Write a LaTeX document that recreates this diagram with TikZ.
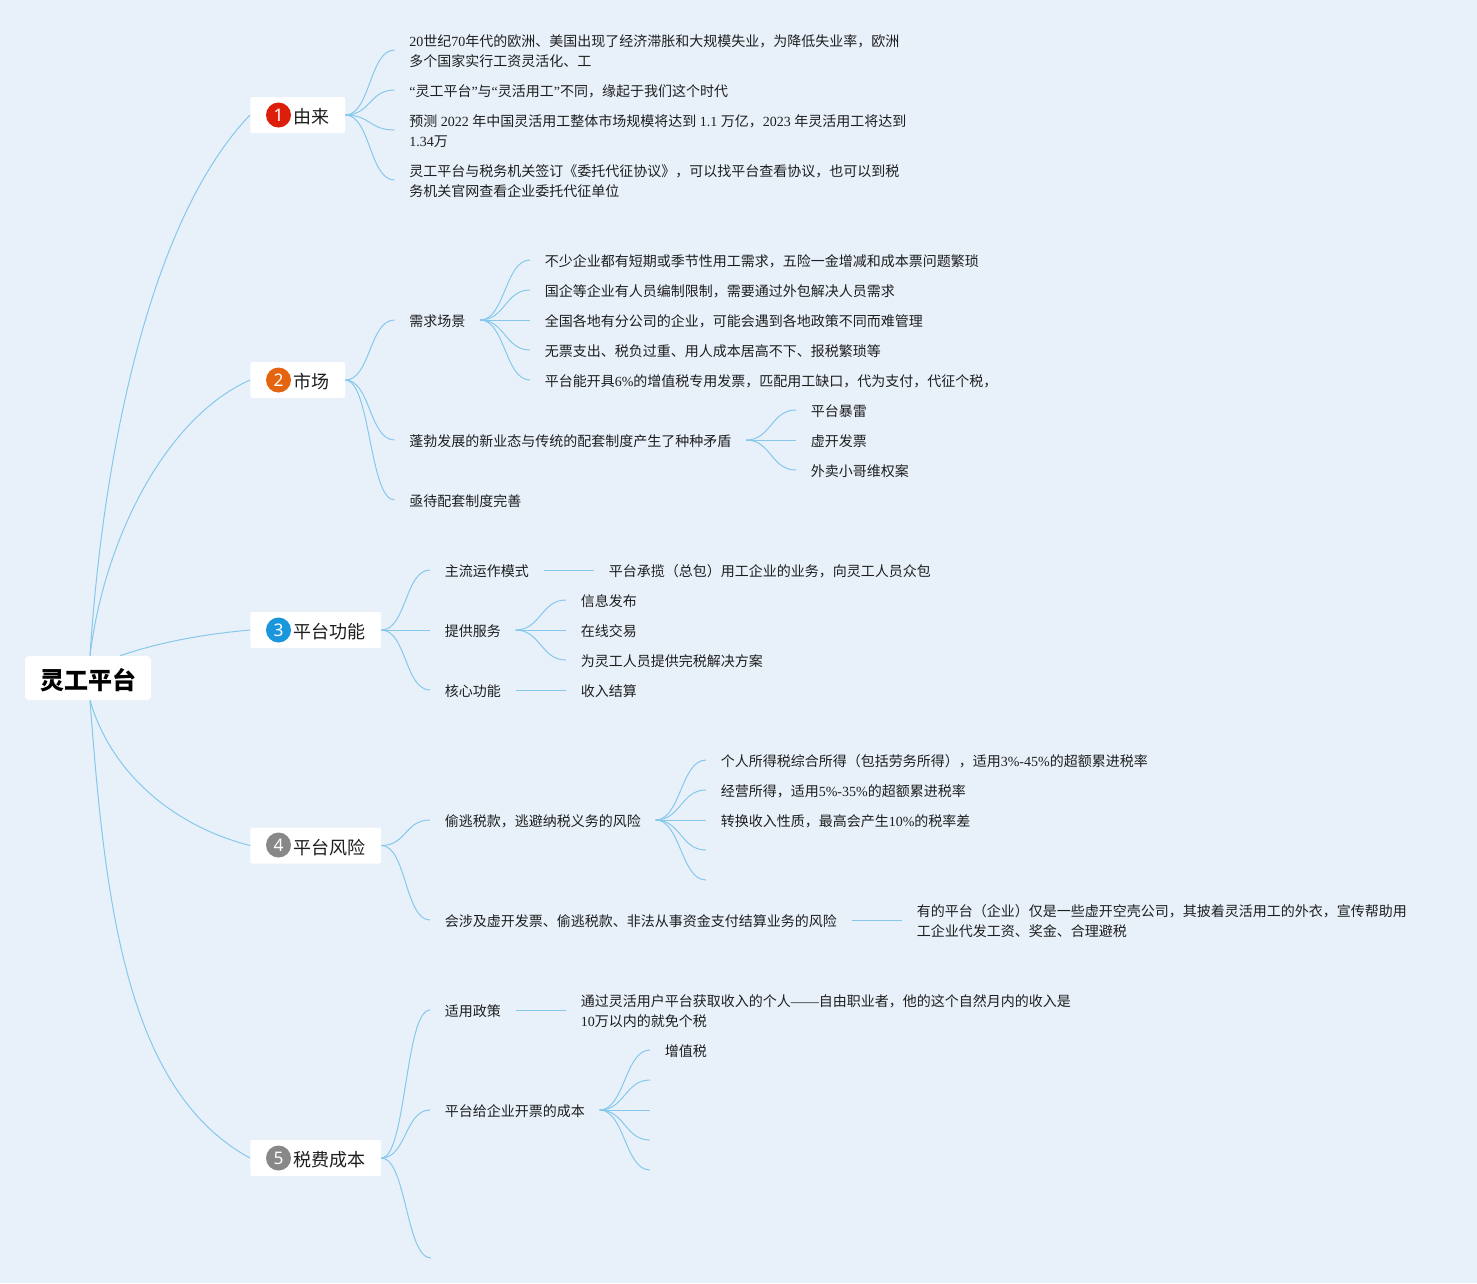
\documentclass[tikz,border=0pt]{standalone}
\usepackage{fontspec}
\setmainfont{Noto Sans CJK SC}
\newfontfamily\latf{Liberation Serif}
\newfontfamily\digf{Noto Sans}
\newcommand\ltn[1]{{\latf #1}}
\newcommand\tl{\rule{0pt}{11.5pt}}
\definecolor{bgc}{HTML}{E8F1FA}
\definecolor{linec}{HTML}{86C8EC}
\definecolor{txtc}{HTML}{1E1E1E}
\definecolor{bred}{HTML}{DC1E0A}
\definecolor{bora}{HTML}{E4640F}
\definecolor{bblu}{HTML}{1A96DC}
\definecolor{bgra}{HTML}{888888}
\tikzset{
  txt/.style={anchor=west,inner xsep=10.9pt,inner ysep=0pt,align=left,text=txtc,
    font=\fontsize{10.5pt}{15pt}\selectfont,
    execute at begin node={\rule{0pt}{12pt}},
    execute at end node={\rule[-1.9pt]{0pt}{0pt}}},
  rootbox/.style={fill=white,rounded corners=3pt,inner sep=0pt,minimum width=94.5pt,minimum height=33pt,
    font=\fontsize{18pt}{20pt}\selectfont\bfseries,text=black},
  topic/.style={anchor=west,fill=white,rounded corners=1.5pt,inner ysep=0pt,inner xsep=0pt,minimum height=27pt,
    font=\fontsize{13.5pt}{16pt}\selectfont,text=txtc},
  badge/.style={circle,inner sep=0pt,minimum size=18.75pt,text=white,font=\digf\fontsize{13pt}{14pt}\selectfont},
  conn/.style={draw=linec,line width=0.75pt}
}
\newcommand\lnk[3][25]{\draw[conn] (#2.east) .. controls +(#1,0) and +(-#1,0) .. (#3.west);}
\newcommand\lnkc[3][25]{\draw[conn] (#2.east) .. controls +(#1,0) and +(-#1,0) .. (#3);}
\newcommand\str[2]{\draw[conn] (#1.east) -- (#2.west);}
\newcommand\topictext[1]{\hspace*{32.6pt}\raisebox{-6.4pt}[0pt][0pt]{#1}\hspace*{11.5pt}}
\begin{document}
\begin{tikzpicture}[x=0.75pt,y=-0.75pt]
\useasboundingbox (0,0) rectangle (1477,1283);
\fill[bgc] (0,0) rectangle (1477,1283);

% root and topics
\node[rootbox] (root) at (88,678) {\raisebox{-8.3pt}[0pt][0pt]{灵工平台}};
\node[topic] (t1) at (250,115) {\topictext{由来}};
\node[topic] (t2) at (250,380) {\topictext{市场}};
\node[topic] (t3) at (250,630) {\topictext{平台功能}};
\node[topic] (t4) at (250,845.5) {\topictext{平台风险}};
\node[topic] (t5) at (250,1158) {\topictext{税费成本}};
\node[badge,fill=bred] (b1) at (278.5,115) {1};
\node[badge,fill=bora] (b2) at (278.5,380) {2};
\node[badge,fill=bblu] (b3) at (278.5,630) {3};
\node[badge,fill=bgra] (b4) at (278.5,845) {4};
\node[badge,fill=bgra] (b5) at (278.5,1158) {5};

% 1
\node[txt] (a1) at (394.5,50) {\tl\ltn{20}世纪\ltn{70}年代的欧洲、美国出现了经济滞胀和大规模失业，为降低失业率，欧洲\\多个国家实行工资灵活化、工};
\node[txt] (a2) at (394.5,90) {\ltn{“}灵工平台\ltn{”}与\ltn{“}灵活用工\ltn{”}不同，缘起于我们这个时代};
\node[txt] (a3) at (394.5,130) {\tl 预测\ltn{ 2022 }年中国灵活用工整体市场规模将达到\ltn{ 1.1 }万亿，\ltn{2023 }年灵活用工将达到\\\ltn{1.34}万};
\node[txt] (a4) at (394.5,180) {\tl 灵工平台与税务机关签订《委托代征协议》，可以找平台查看协议，也可以到税\\务机关官网查看企业委托代征单位};

% 2
\node[txt] (m1) at (394.5,320) {需求场景};
\node[txt] (m2) at (394.5,440) {蓬勃发展的新业态与传统的配套制度产生了种种矛盾};
\node[txt] (m3) at (394.5,500) {亟待配套制度完善};
\node[txt] (s1) at (530,260) {不少企业都有短期或季节性用工需求，五险一金增减和成本票问题繁琐};
\node[txt] (s2) at (530,290) {国企等企业有人员编制限制，需要通过外包解决人员需求};
\node[txt] (s3) at (530,320) {全国各地有分公司的企业，可能会遇到各地政策不同而难管理};
\node[txt] (s4) at (530,350) {无票支出、税负过重、用人成本居高不下、报税繁琐等};
\node[txt] (s5) at (530,380) {平台能开具\ltn{6\%}的增值税专用发票，匹配用工缺口，代为支付，代征个税，};
\node[txt] (c1) at (796,410) {平台暴雷};
\node[txt] (c2) at (796,440) {虚开发票};
\node[txt] (c3) at (796,470) {外卖小哥维权案};

% 3
\node[txt] (f1) at (430,570) {主流运作模式};
\node[txt] (f2) at (430,630) {提供服务};
\node[txt] (f3) at (430,690) {核心功能};
\node[txt] (g1) at (594,570) {平台承揽（总包）用工企业的业务，向灵工人员众包};
\node[txt] (h1) at (566,600) {信息发布};
\node[txt] (h2) at (566,630) {在线交易};
\node[txt] (h3) at (566,660) {为灵工人员提供完税解决方案};
\node[txt] (k1) at (566,690) {收入结算};

% 4
\node[txt] (r1) at (430,820) {偷逃税款，逃避纳税义务的风险};
\node[txt] (r2) at (430,920) {会涉及虚开发票、偷逃税款、非法从事资金支付结算业务的风险};
\node[txt] (p1) at (706,760) {个人所得税综合所得（包括劳务所得），适用\ltn{3\%-45\%}的超额累进税率};
\node[txt] (p2) at (706,790) {经营所得，适用\ltn{5\%-35\%}的超额累进税率};
\node[txt] (p3) at (706,820) {转换收入性质，最高会产生\ltn{10\%}的税率差};
\coordinate (p4) at (706,850);
\coordinate (p5) at (706,880);
\node[txt] (q1) at (902,920) {\tl 有的平台（企业）仅是一些虚开空壳公司，其披着灵活用工的外衣，宣传帮助用\\工企业代发工资、奖金、合理避税};

% 5
\node[txt] (x1) at (430,1010) {适用政策};
\node[txt] (x2) at (430,1110) {平台给企业开票的成本};
\coordinate (x3) at (431,1258);
\node[txt] (y1) at (566,1010) {\tl 通过灵活用户平台获取收入的个人\ltn{——}自由职业者，他的这个自然月内的收入是\\\ltn{10}万以内的就免个税};
\node[txt] (z1) at (650,1050) {增值税};
\coordinate (z2) at (650,1080);
\coordinate (z3) at (650,1110);
\coordinate (z4) at (650,1140);
\coordinate (z5) at (650,1170);

% root connectors
\draw[conn] ([xshift=1.5pt]root.north) .. controls (102,470) and (145,225) .. (t1.west);
\draw[conn] ([xshift=1.5pt]root.north) .. controls (104,540) and (165,418) .. (t2.west);
\draw[conn] ([xshift=24pt]root.north) .. controls (160,642) and (205,634) .. (t3.west);
\draw[conn] ([xshift=1.5pt]root.south) .. controls (110,770) and (170,825) .. (t4.west);
\draw[conn] ([xshift=1.5pt]root.south) .. controls (105,900) and (125,1090) .. (t5.west);

% branches
\lnk{t1}{a1}\lnk{t1}{a2}\lnk{t1}{a3}\lnk{t1}{a4}
\lnk{t2}{m1}\lnk{t2}{m2}\lnk{t2}{m3}
\lnk{m1}{s1}\lnk{m1}{s2}\lnk{m1}{s3}\lnk{m1}{s4}\lnk{m1}{s5}
\lnk{m2}{c1}\lnk{m2}{c2}\lnk{m2}{c3}
\lnk{t3}{f1}\lnk{t3}{f2}\lnk{t3}{f3}
\str{f1}{g1}
\lnk{f2}{h1}\lnk{f2}{h2}\lnk{f2}{h3}
\str{f3}{k1}
\lnk{t4}{r1}\lnk{t4}{r2}
\lnk{r1}{p1}\lnk{r1}{p2}\lnk{r1}{p3}\lnkc{r1}{p4}\lnkc{r1}{p5}
\str{r2}{q1}
\lnk{t5}{x1}\lnk{t5}{x2}\lnkc{t5}{x3}
\str{x1}{y1}
\lnk{x2}{z1}\lnkc{x2}{z2}\lnkc{x2}{z3}\lnkc{x2}{z4}\lnkc{x2}{z5}
\end{tikzpicture}
\end{document}
